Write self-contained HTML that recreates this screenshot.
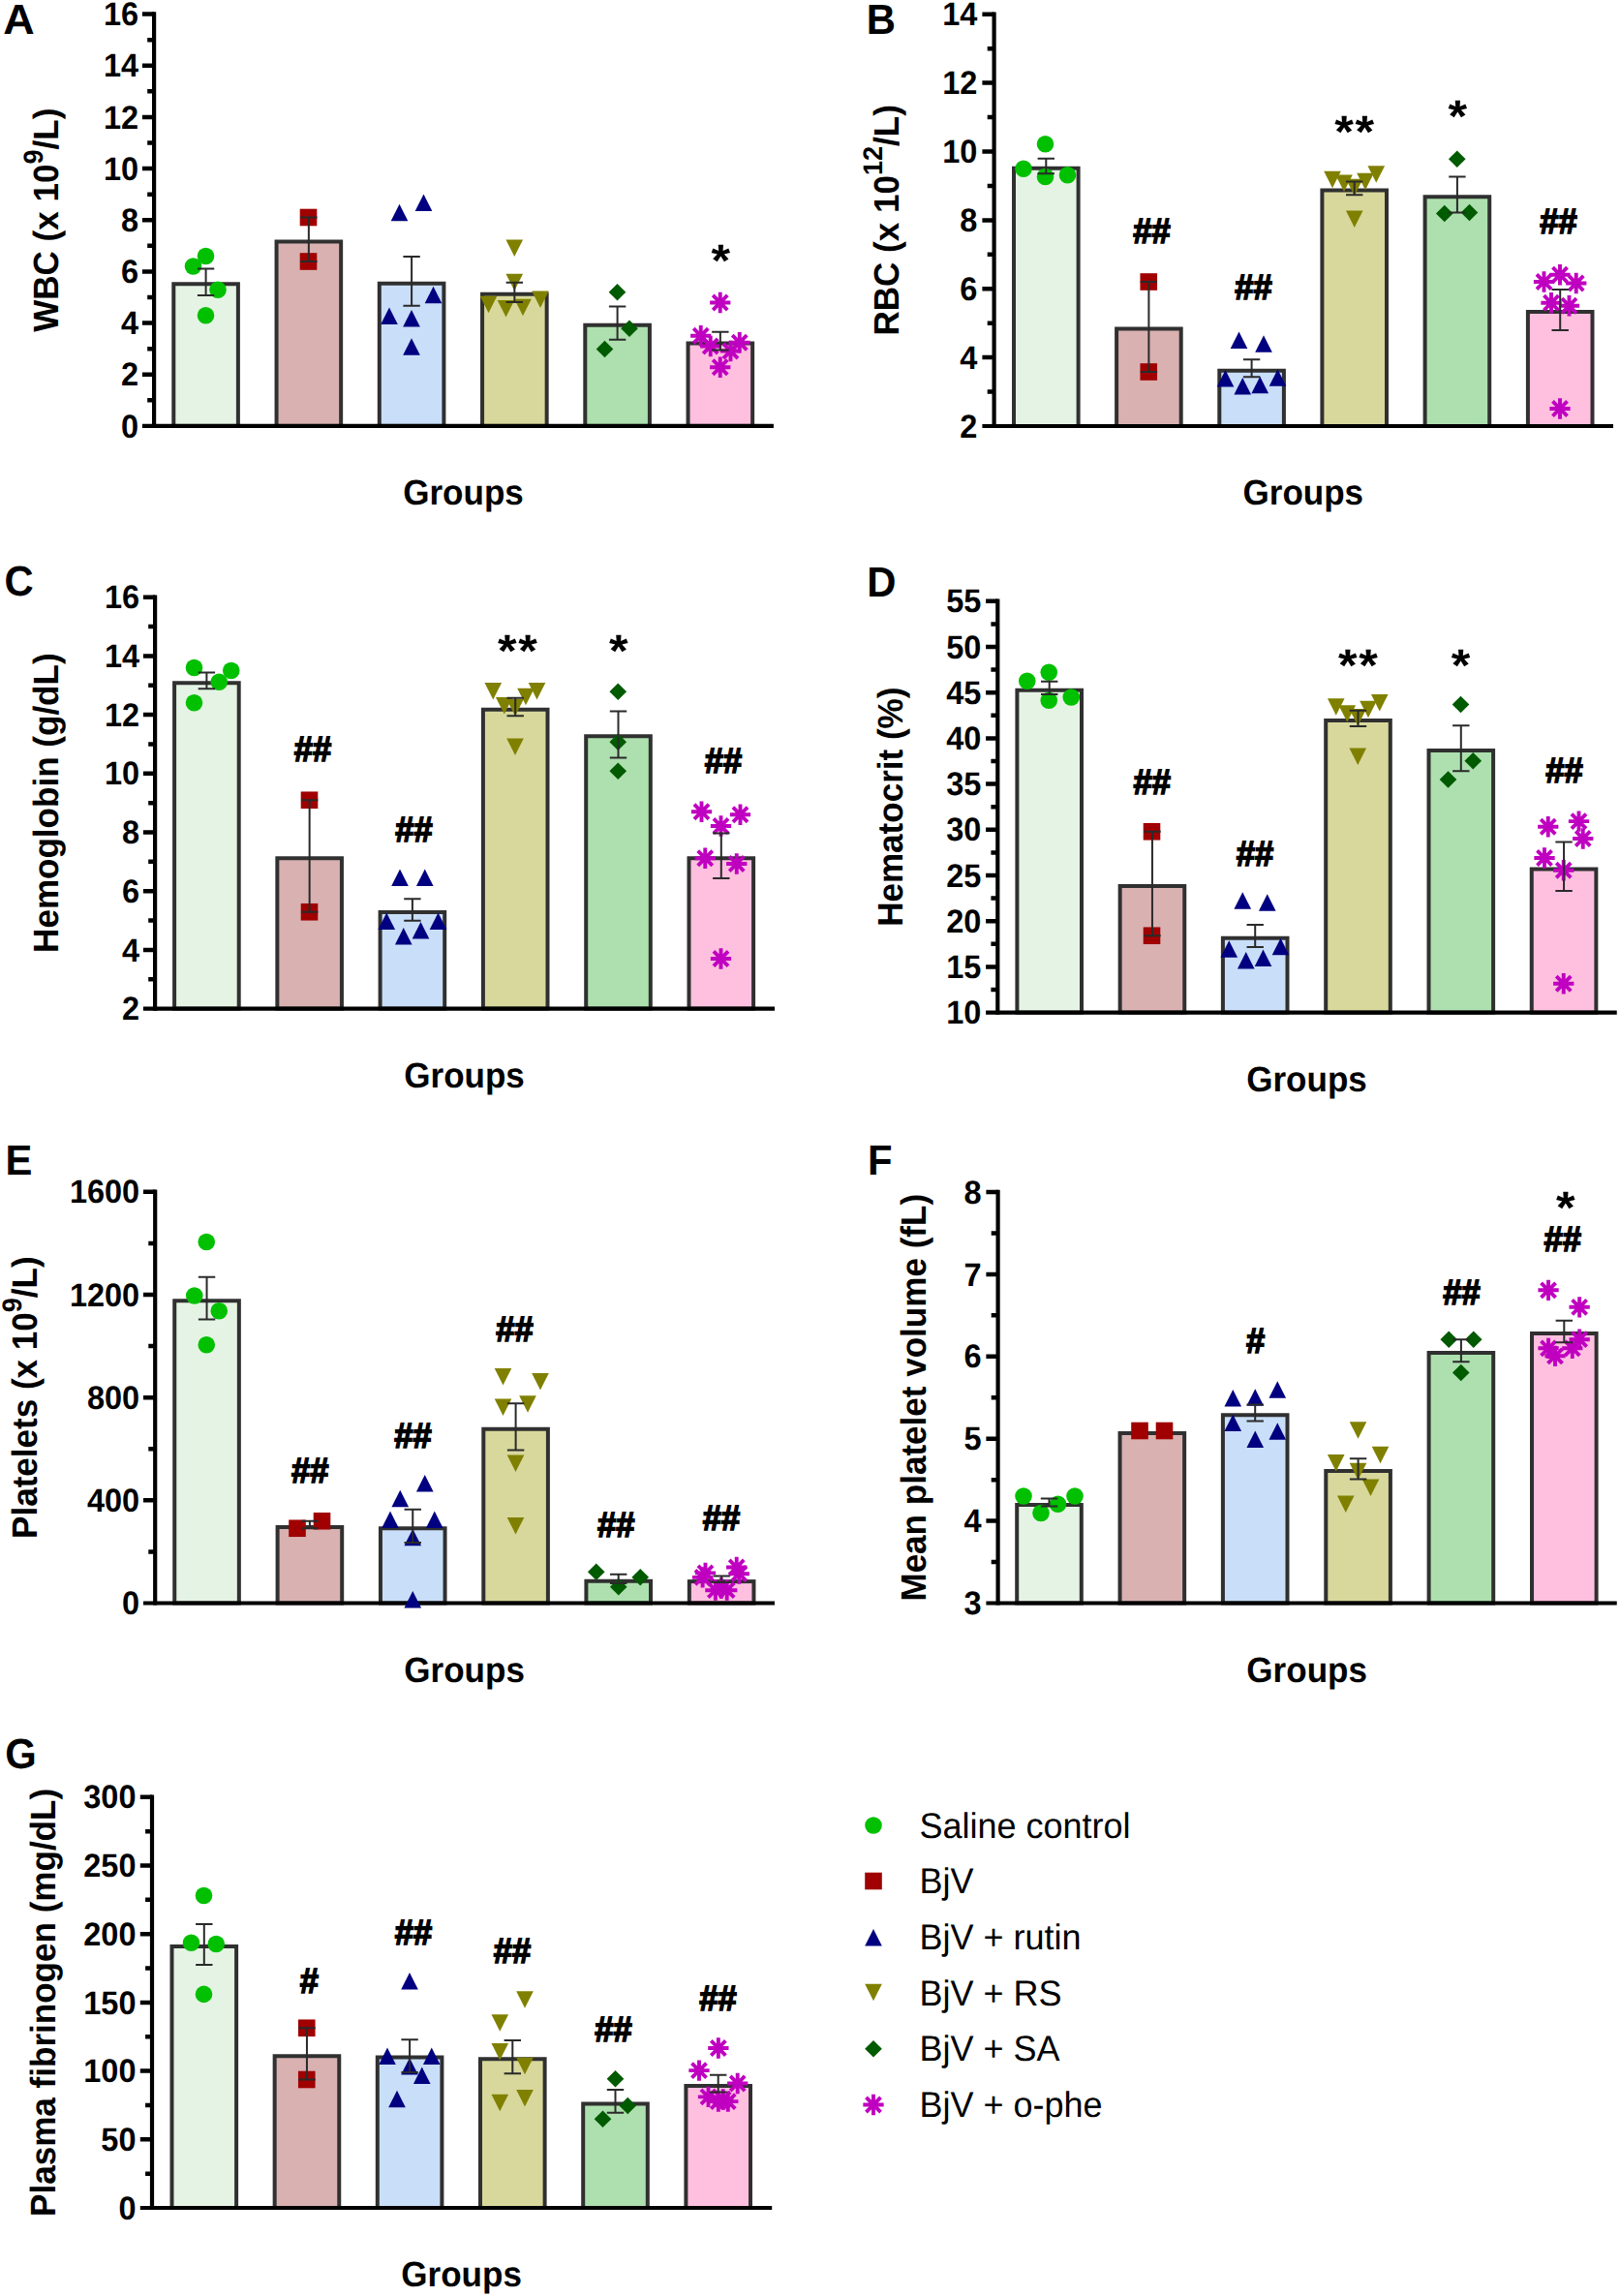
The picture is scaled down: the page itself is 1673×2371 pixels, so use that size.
<!DOCTYPE html>
<html lang="en">
<head>
<meta charset="utf-8">
<title>Hematological parameters</title>
<style>html,body{margin:0;padding:0;background:#fff}svg{display:block}</style>
</head>
<body>
<svg width="1673" height="2371" viewBox="0 0 1673 2371" font-family="'Liberation Sans', sans-serif" fill="#000" text-rendering="geometricPrecision">
<g>
<rect x="179.3" y="293.25" width="66.6" height="146.7" fill="#e5f3e4" stroke="#303030" stroke-width="4"/>
<rect x="285.55" y="249.5" width="66.6" height="190.45" fill="#d9b1b1" stroke="#303030" stroke-width="4"/>
<rect x="391.8" y="292.75" width="66.6" height="147.2" fill="#c9def8" stroke="#303030" stroke-width="4"/>
<rect x="498.05" y="303.75" width="66.6" height="136.2" fill="#d8d89c" stroke="#303030" stroke-width="4"/>
<rect x="604.3" y="335.75" width="66.6" height="104.2" fill="#ade0ae" stroke="#303030" stroke-width="4"/>
<rect x="710.55" y="354.5" width="66.6" height="85.45" fill="#ffc0e0" stroke="#303030" stroke-width="4"/>
<path d="M159.1 12.3V442.05" stroke="#000" stroke-width="4.2" fill="none"/>
<path d="M146.9 439.95H798.9" stroke="#000" stroke-width="4.2" fill="none"/>
<path d="M146.9 14.55H159.1M152.2 41.14H159.1M146.9 67.72H159.1M152.2 94.31H159.1M146.9 120.9H159.1M152.2 147.49H159.1M146.9 174.07H159.1M152.2 200.66H159.1M146.9 227.25H159.1M152.2 253.84H159.1M146.9 280.43H159.1M152.2 307.01H159.1M146.9 333.6H159.1M152.2 360.19H159.1M146.9 386.77H159.1M152.2 413.36H159.1" stroke="#000" stroke-width="4.5" fill="none"/>
<text transform="translate(143.1 26.23) scale(1 1.045)" font-size="32.5" text-anchor="end" font-weight="bold">16</text>
<text transform="translate(143.1 79.41) scale(1 1.045)" font-size="32.5" text-anchor="end" font-weight="bold">14</text>
<text transform="translate(143.1 132.58) scale(1 1.045)" font-size="32.5" text-anchor="end" font-weight="bold">12</text>
<text transform="translate(143.1 185.76) scale(1 1.045)" font-size="32.5" text-anchor="end" font-weight="bold">10</text>
<text transform="translate(143.1 238.93) scale(1 1.045)" font-size="32.5" text-anchor="end" font-weight="bold">8</text>
<text transform="translate(143.1 292.11) scale(1 1.045)" font-size="32.5" text-anchor="end" font-weight="bold">6</text>
<text transform="translate(143.1 345.28) scale(1 1.045)" font-size="32.5" text-anchor="end" font-weight="bold">4</text>
<text transform="translate(143.1 398.46) scale(1 1.045)" font-size="32.5" text-anchor="end" font-weight="bold">2</text>
<text transform="translate(143.1 451.63) scale(1 1.045)" font-size="32.5" text-anchor="end" font-weight="bold">0</text>
<circle cx="212.5" cy="264.5" r="8.8" fill="#00c000"/>
<circle cx="199.5" cy="275" r="8.8" fill="#00c000"/>
<circle cx="225" cy="299.25" r="8.8" fill="#00c000"/>
<circle cx="212.5" cy="325.75" r="8.8" fill="#00c000"/>
<rect x="309.7" y="215.7" width="17.6" height="17.6" fill="#a00000"/>
<rect x="309.7" y="261.2" width="17.6" height="17.6" fill="#a00000"/>
<path d="M412.5 210.7L421.3 228.3L403.7 228.3Z" fill="#000080"/>
<path d="M437.5 200.45L446.3 218.05L428.7 218.05Z" fill="#000080"/>
<path d="M447.5 295.7L456.3 313.3L438.7 313.3Z" fill="#000080"/>
<path d="M402 317.45L410.8 335.05L393.2 335.05Z" fill="#000080"/>
<path d="M425 319.95L433.8 337.55L416.2 337.55Z" fill="#000080"/>
<path d="M425 349.2L433.8 366.8L416.2 366.8Z" fill="#000080"/>
<path d="M522.45 247.45L540.05 247.45L531.25 265.05Z" fill="#808000"/>
<path d="M522.45 282.7L540.05 282.7L531.25 300.3Z" fill="#808000"/>
<path d="M495.7 305.7L513.3 305.7L504.5 323.3Z" fill="#808000"/>
<path d="M513.7 309.95L531.3 309.95L522.5 327.55Z" fill="#808000"/>
<path d="M531.2 308.7L548.8 308.7L540 326.3Z" fill="#808000"/>
<path d="M549.2 300.45L566.8 300.45L558 318.05Z" fill="#808000"/>
<path d="M637.5 292.95L646.3 301.75L637.5 310.55L628.7 301.75Z" fill="#005a00"/>
<path d="M650 330.45L658.8 339.25L650 348.05L641.2 339.25Z" fill="#005a00"/>
<path d="M624.5 351.7L633.3 360.5L624.5 369.3L615.7 360.5Z" fill="#005a00"/>
<path d="M743.75 301.85V323.15M733.1 312.5H754.4M736.22 304.97L751.28 320.03M736.22 320.03L751.28 304.97" stroke="#c000c0" stroke-width="3.9" fill="none"/>
<path d="M723.75 336.1V357.4M713.1 346.75H734.4M716.22 339.22L731.28 354.28M716.22 354.28L731.28 339.22" stroke="#c000c0" stroke-width="3.9" fill="none"/>
<path d="M733.75 346.85V368.15M723.1 357.5H744.4M726.22 349.97L741.28 365.03M726.22 365.03L741.28 349.97" stroke="#c000c0" stroke-width="3.9" fill="none"/>
<path d="M763.75 343.1V364.4M753.1 353.75H774.4M756.22 346.22L771.28 361.28M756.22 361.28L771.28 346.22" stroke="#c000c0" stroke-width="3.9" fill="none"/>
<path d="M754.5 351.85V373.15M743.85 362.5H765.15M746.97 354.97L762.03 370.03M746.97 370.03L762.03 354.97" stroke="#c000c0" stroke-width="3.9" fill="none"/>
<path d="M743.75 368.6V389.9M733.1 379.25H754.4M736.22 371.72L751.28 386.78M736.22 386.78L751.28 371.72" stroke="#c000c0" stroke-width="3.9" fill="none"/>
<path d="M203.9 277.5H221.3M203.9 305H221.3M212.6 277.5V305M310.15 224.5H327.55M310.15 270H327.55M318.85 224.5V270M416.4 265H433.8M416.4 315.75H433.8M425.1 265V315.75M522.65 291.75H540.05M522.65 312H540.05M531.35 291.75V312M628.9 316.5H646.3M628.9 350.75H646.3M637.6 316.5V350.75M735.15 342.75H752.55M735.15 361.5H752.55M743.85 342.75V361.5" stroke="#2a2a2a" stroke-width="2" fill="none"/>
<text transform="translate(744.4 284.91) scale(1 0.935)" font-size="50.3" text-anchor="middle" font-weight="bold">*</text>
<text transform="translate(478.5 521.25) scale(1 1.045)" font-size="35.05" text-anchor="middle" font-weight="bold">Groups</text>
<text transform="translate(59.7 227.25) rotate(-90) scale(1 1.04)" font-size="35.05" text-anchor="middle" font-weight="bold">WBC (x 10<tspan font-size="27" dy="-15.4">9</tspan><tspan dy="15.4">/L)</tspan></text>
<text transform="translate(3.2 35) scale(1.075 1.045)" font-size="41.8" text-anchor="start" font-weight="bold">A</text>
</g>
<g>
<rect x="1047" y="173.75" width="66.6" height="266.25" fill="#e5f3e4" stroke="#303030" stroke-width="4"/>
<rect x="1153.1" y="339.5" width="66.6" height="100.5" fill="#d9b1b1" stroke="#303030" stroke-width="4"/>
<rect x="1259.3" y="382.75" width="66.6" height="57.25" fill="#c9def8" stroke="#303030" stroke-width="4"/>
<rect x="1365.4" y="196.5" width="66.6" height="243.5" fill="#d8d89c" stroke="#303030" stroke-width="4"/>
<rect x="1471.6" y="203.25" width="66.6" height="236.75" fill="#ade0ae" stroke="#303030" stroke-width="4"/>
<rect x="1577.9" y="322" width="66.6" height="118" fill="#ffc0e0" stroke="#303030" stroke-width="4"/>
<path d="M1026.6 12.5V442.1" stroke="#000" stroke-width="4.2" fill="none"/>
<path d="M1014.4 440H1666" stroke="#000" stroke-width="4.2" fill="none"/>
<path d="M1014.4 14.75H1026.6M1019.7 50.19H1026.6M1014.4 85.62H1026.6M1019.7 121.06H1026.6M1014.4 156.5H1026.6M1019.7 191.94H1026.6M1014.4 227.38H1026.6M1019.7 262.81H1026.6M1014.4 298.25H1026.6M1019.7 333.69H1026.6M1014.4 369.12H1026.6M1019.7 404.56H1026.6" stroke="#000" stroke-width="4.5" fill="none"/>
<text transform="translate(1009.4 26.43) scale(1 1.045)" font-size="32.5" text-anchor="end" font-weight="bold">14</text>
<text transform="translate(1009.4 97.31) scale(1 1.045)" font-size="32.5" text-anchor="end" font-weight="bold">12</text>
<text transform="translate(1009.4 168.18) scale(1 1.045)" font-size="32.5" text-anchor="end" font-weight="bold">10</text>
<text transform="translate(1009.4 239.06) scale(1 1.045)" font-size="32.5" text-anchor="end" font-weight="bold">8</text>
<text transform="translate(1009.4 309.93) scale(1 1.045)" font-size="32.5" text-anchor="end" font-weight="bold">6</text>
<text transform="translate(1009.4 380.81) scale(1 1.045)" font-size="32.5" text-anchor="end" font-weight="bold">4</text>
<text transform="translate(1009.4 451.68) scale(1 1.045)" font-size="32.5" text-anchor="end" font-weight="bold">2</text>
<circle cx="1079.5" cy="148.75" r="8.8" fill="#00c000"/>
<circle cx="1057" cy="174.25" r="8.8" fill="#00c000"/>
<circle cx="1079.5" cy="182.5" r="8.8" fill="#00c000"/>
<circle cx="1102.5" cy="180.75" r="8.8" fill="#00c000"/>
<rect x="1177.45" y="282.2" width="17.6" height="17.6" fill="#a00000"/>
<rect x="1177.45" y="375.2" width="17.6" height="17.6" fill="#a00000"/>
<path d="M1279.5 342.45L1288.3 360.05L1270.7 360.05Z" fill="#000080"/>
<path d="M1305 346.2L1313.8 363.8L1296.2 363.8Z" fill="#000080"/>
<path d="M1265.5 381.95L1274.3 399.55L1256.7 399.55Z" fill="#000080"/>
<path d="M1319.5 381.2L1328.3 398.8L1310.7 398.8Z" fill="#000080"/>
<path d="M1283.25 389.95L1292.05 407.55L1274.45 407.55Z" fill="#000080"/>
<path d="M1301.25 388.7L1310.05 406.3L1292.45 406.3Z" fill="#000080"/>
<path d="M1367.2 176.7L1384.8 176.7L1376 194.3Z" fill="#808000"/>
<path d="M1379.2 180.45L1396.8 180.45L1388 198.05Z" fill="#808000"/>
<path d="M1389.95 184.7L1407.55 184.7L1398.75 202.3Z" fill="#808000"/>
<path d="M1401.2 178.7L1418.8 178.7L1410 196.3Z" fill="#808000"/>
<path d="M1412.45 171.2L1430.05 171.2L1421.25 188.8Z" fill="#808000"/>
<path d="M1389.95 217.45L1407.55 217.45L1398.75 235.05Z" fill="#808000"/>
<path d="M1504.75 155.45L1513.55 164.25L1504.75 173.05L1495.95 164.25Z" fill="#005a00"/>
<path d="M1491.75 211.7L1500.55 220.5L1491.75 229.3L1482.95 220.5Z" fill="#005a00"/>
<path d="M1517.5 210.7L1526.3 219.5L1517.5 228.3L1508.7 219.5Z" fill="#005a00"/>
<path d="M1611 273.1V294.4M1600.35 283.75H1621.65M1603.47 276.22L1618.53 291.28M1603.47 291.28L1618.53 276.22" stroke="#c000c0" stroke-width="3.9" fill="none"/>
<path d="M1594.5 280.35V301.65M1583.85 291H1605.15M1586.97 283.47L1602.03 298.53M1586.97 298.53L1602.03 283.47" stroke="#c000c0" stroke-width="3.9" fill="none"/>
<path d="M1627.75 281.85V303.15M1617.1 292.5H1638.4M1620.22 284.97L1635.28 300.03M1620.22 300.03L1635.28 284.97" stroke="#c000c0" stroke-width="3.9" fill="none"/>
<path d="M1602 302.1V323.4M1591.35 312.75H1612.65M1594.47 305.22L1609.53 320.28M1594.47 320.28L1609.53 305.22" stroke="#c000c0" stroke-width="3.9" fill="none"/>
<path d="M1620.5 305.1V326.4M1609.85 315.75H1631.15M1612.97 308.22L1628.03 323.28M1612.97 323.28L1628.03 308.22" stroke="#c000c0" stroke-width="3.9" fill="none"/>
<path d="M1611 411.35V432.65M1600.35 422H1621.65M1603.47 414.47L1618.53 429.53M1603.47 429.53L1618.53 414.47" stroke="#c000c0" stroke-width="3.9" fill="none"/>
<path d="M1071.6 163.75H1089M1071.6 179.25H1089M1080.3 163.75V179.25M1177.7 291H1195.1M1177.7 384H1195.1M1186.4 291V384M1283.9 371.25H1301.3M1283.9 389.25H1301.3M1292.6 371.25V389.25M1390 187.5H1407.4M1390 201.25H1407.4M1398.7 187.5V201.25M1496.2 182.5H1513.6M1496.2 219.5H1513.6M1504.9 182.5V219.5M1602.5 299H1619.9M1602.5 341H1619.9M1611.2 299V341" stroke="#2a2a2a" stroke-width="2" fill="none"/>
<text transform="translate(1189.6 250.5) scale(1 1.065)" font-size="34.6" text-anchor="middle" font-weight="bold" stroke="#000" stroke-width="1.5" stroke-linejoin="miter">##</text>
<text transform="translate(1294.6 309.25) scale(1 1.065)" font-size="34.6" text-anchor="middle" font-weight="bold" stroke="#000" stroke-width="1.5" stroke-linejoin="miter">##</text>
<text transform="translate(1399.6 152.01) scale(1 0.935)" font-size="50.3" text-anchor="middle" font-weight="bold" letter-spacing="1.7">**</text>
<text transform="translate(1505.4 135.56) scale(1 0.935)" font-size="50.3" text-anchor="middle" font-weight="bold">*</text>
<text transform="translate(1609.6 240.5) scale(1 1.065)" font-size="34.6" text-anchor="middle" font-weight="bold" stroke="#000" stroke-width="1.5" stroke-linejoin="miter">##</text>
<text transform="translate(1345.8 521.3) scale(1 1.045)" font-size="35.05" text-anchor="middle" font-weight="bold">Groups</text>
<text transform="translate(927.5 227.38) rotate(-90) scale(1 1.04)" font-size="35.05" text-anchor="middle" font-weight="bold">RBC (x 10<tspan font-size="27" dy="-15.4">12</tspan><tspan dy="15.4">/L)</tspan></text>
<text transform="translate(894.8 34.6) scale(1 1.045)" font-size="41.8" text-anchor="start" font-weight="bold">B</text>
</g>
<g>
<rect x="180.1" y="705.25" width="66.6" height="336.35" fill="#e5f3e4" stroke="#303030" stroke-width="4"/>
<rect x="286.35" y="886.25" width="66.6" height="155.35" fill="#d9b1b1" stroke="#303030" stroke-width="4"/>
<rect x="392.6" y="942" width="66.6" height="99.6" fill="#c9def8" stroke="#303030" stroke-width="4"/>
<rect x="498.9" y="732.75" width="66.6" height="308.85" fill="#d8d89c" stroke="#303030" stroke-width="4"/>
<rect x="605.2" y="760.25" width="66.6" height="281.35" fill="#ade0ae" stroke="#303030" stroke-width="4"/>
<rect x="711.5" y="886.25" width="66.6" height="155.35" fill="#ffc0e0" stroke="#303030" stroke-width="4"/>
<path d="M160.1 614.45V1043.7" stroke="#000" stroke-width="4.2" fill="none"/>
<path d="M147.9 1041.6H800" stroke="#000" stroke-width="4.2" fill="none"/>
<path d="M147.9 616.7H160.1M153.2 647.05H160.1M147.9 677.4H160.1M153.2 707.75H160.1M147.9 738.1H160.1M153.2 768.45H160.1M147.9 798.8H160.1M153.2 829.15H160.1M147.9 859.5H160.1M153.2 889.85H160.1M147.9 920.2H160.1M153.2 950.55H160.1M147.9 980.9H160.1M153.2 1011.25H160.1" stroke="#000" stroke-width="4.5" fill="none"/>
<text transform="translate(144.1 628.38) scale(1 1.045)" font-size="32.5" text-anchor="end" font-weight="bold">16</text>
<text transform="translate(144.1 689.08) scale(1 1.045)" font-size="32.5" text-anchor="end" font-weight="bold">14</text>
<text transform="translate(144.1 749.78) scale(1 1.045)" font-size="32.5" text-anchor="end" font-weight="bold">12</text>
<text transform="translate(144.1 810.48) scale(1 1.045)" font-size="32.5" text-anchor="end" font-weight="bold">10</text>
<text transform="translate(144.1 871.18) scale(1 1.045)" font-size="32.5" text-anchor="end" font-weight="bold">8</text>
<text transform="translate(144.1 931.88) scale(1 1.045)" font-size="32.5" text-anchor="end" font-weight="bold">6</text>
<text transform="translate(144.1 992.58) scale(1 1.045)" font-size="32.5" text-anchor="end" font-weight="bold">4</text>
<text transform="translate(144.1 1053.28) scale(1 1.045)" font-size="32.5" text-anchor="end" font-weight="bold">2</text>
<circle cx="200.5" cy="689.5" r="8.8" fill="#00c000"/>
<circle cx="238.75" cy="692.5" r="8.8" fill="#00c000"/>
<circle cx="226.25" cy="704.25" r="8.8" fill="#00c000"/>
<circle cx="200.5" cy="725.75" r="8.8" fill="#00c000"/>
<rect x="310.7" y="817.45" width="17.6" height="17.6" fill="#a00000"/>
<rect x="310.7" y="932.95" width="17.6" height="17.6" fill="#a00000"/>
<path d="M413 897.45L421.8 915.05L404.2 915.05Z" fill="#000080"/>
<path d="M438.75 897.45L447.55 915.05L429.95 915.05Z" fill="#000080"/>
<path d="M399.25 942.45L408.05 960.05L390.45 960.05Z" fill="#000080"/>
<path d="M452.5 942.45L461.3 960.05L443.7 960.05Z" fill="#000080"/>
<path d="M434.5 951.95L443.3 969.55L425.7 969.55Z" fill="#000080"/>
<path d="M416.75 957.95L425.55 975.55L407.95 975.55Z" fill="#000080"/>
<path d="M500.45 704.95L518.05 704.95L509.25 722.55Z" fill="#808000"/>
<path d="M545.7 704.95L563.3 704.95L554.5 722.55Z" fill="#808000"/>
<path d="M534.2 710.7L551.8 710.7L543 728.3Z" fill="#808000"/>
<path d="M511.95 719.95L529.55 719.95L520.75 737.55Z" fill="#808000"/>
<path d="M523.2 721.95L540.8 721.95L532 739.55Z" fill="#808000"/>
<path d="M523.2 762.45L540.8 762.45L532 780.05Z" fill="#808000"/>
<path d="M638.25 705.45L647.05 714.25L638.25 723.05L629.45 714.25Z" fill="#005a00"/>
<path d="M638.25 757.45L647.05 766.25L638.25 775.05L629.45 766.25Z" fill="#005a00"/>
<path d="M638.25 787.45L647.05 796.25L638.25 805.05L629.45 796.25Z" fill="#005a00"/>
<path d="M724.5 827.6V848.9M713.85 838.25H735.15M716.97 830.72L732.03 845.78M716.97 845.78L732.03 830.72" stroke="#c000c0" stroke-width="3.9" fill="none"/>
<path d="M764.5 830.6V851.9M753.85 841.25H775.15M756.97 833.72L772.03 848.78M756.97 848.78L772.03 833.72" stroke="#c000c0" stroke-width="3.9" fill="none"/>
<path d="M744.5 842.35V863.65M733.85 853H755.15M736.97 845.47L752.03 860.53M736.97 860.53L752.03 845.47" stroke="#c000c0" stroke-width="3.9" fill="none"/>
<path d="M728.25 875.6V896.9M717.6 886.25H738.9M720.72 878.72L735.78 893.78M720.72 893.78L735.78 878.72" stroke="#c000c0" stroke-width="3.9" fill="none"/>
<path d="M760.75 881.35V902.65M750.1 892H771.4M753.22 884.47L768.28 899.53M753.22 899.53L768.28 884.47" stroke="#c000c0" stroke-width="3.9" fill="none"/>
<path d="M744.5 979.35V1000.65M733.85 990H755.15M736.97 982.47L752.03 997.53M736.97 997.53L752.03 982.47" stroke="#c000c0" stroke-width="3.9" fill="none"/>
<path d="M204.7 694.5H222.1M204.7 711.25H222.1M213.4 694.5V711.25M310.95 826.25H328.35M310.95 941.75H328.35M319.65 826.25V941.75M417.2 928.25H434.6M417.2 950.75H434.6M425.9 928.25V950.75M523.5 720.75H540.9M523.5 739.25H540.9M532.2 720.75V739.25M629.8 734.5H647.2M629.8 782.5H647.2M638.5 734.5V782.5M736.1 860.5H753.5M736.1 907H753.5M744.8 860.5V907" stroke="#2a2a2a" stroke-width="2" fill="none"/>
<text transform="translate(323.1 786.25) scale(1 1.065)" font-size="34.6" text-anchor="middle" font-weight="bold" stroke="#000" stroke-width="1.5" stroke-linejoin="miter">##</text>
<text transform="translate(427.6 868.75) scale(1 1.065)" font-size="34.6" text-anchor="middle" font-weight="bold" stroke="#000" stroke-width="1.5" stroke-linejoin="miter">##</text>
<text transform="translate(535.35 687.56) scale(1 0.935)" font-size="50.3" text-anchor="middle" font-weight="bold" letter-spacing="1.7">**</text>
<text transform="translate(638.75 688.21) scale(1 0.935)" font-size="50.3" text-anchor="middle" font-weight="bold">*</text>
<text transform="translate(747.1 797.5) scale(1 1.065)" font-size="34.6" text-anchor="middle" font-weight="bold" stroke="#000" stroke-width="1.5" stroke-linejoin="miter">##</text>
<text transform="translate(479.55 1122.9) scale(1 1.045)" font-size="35.05" text-anchor="middle" font-weight="bold">Groups</text>
<text transform="translate(60.4 829.15) rotate(-90) scale(1 1.04)" font-size="35.05" text-anchor="middle" font-weight="bold">Hemoglobin (g/dL)</text>
<text transform="translate(4.5 615.4) scale(1 1.045)" font-size="41.8" text-anchor="start" font-weight="bold">C</text>
</g>
<g>
<rect x="1050.4" y="712.75" width="66.6" height="332.85" fill="#e5f3e4" stroke="#303030" stroke-width="4"/>
<rect x="1156.65" y="915" width="66.6" height="130.6" fill="#d9b1b1" stroke="#303030" stroke-width="4"/>
<rect x="1262.9" y="968.75" width="66.6" height="76.85" fill="#c9def8" stroke="#303030" stroke-width="4"/>
<rect x="1369.2" y="744" width="66.6" height="301.6" fill="#d8d89c" stroke="#303030" stroke-width="4"/>
<rect x="1475.5" y="775" width="66.6" height="270.6" fill="#ade0ae" stroke="#303030" stroke-width="4"/>
<rect x="1581.75" y="897.5" width="66.6" height="148.1" fill="#ffc0e0" stroke="#303030" stroke-width="4"/>
<path d="M1030.3 618.55V1047.7" stroke="#000" stroke-width="4.2" fill="none"/>
<path d="M1018.1 1045.6H1669.75" stroke="#000" stroke-width="4.2" fill="none"/>
<path d="M1018.1 620.8H1030.3M1023.4 644.4H1030.3M1018.1 668H1030.3M1023.4 691.6H1030.3M1018.1 715.2H1030.3M1023.4 738.8H1030.3M1018.1 762.4H1030.3M1023.4 786H1030.3M1018.1 809.6H1030.3M1023.4 833.2H1030.3M1018.1 856.8H1030.3M1023.4 880.4H1030.3M1018.1 904H1030.3M1023.4 927.6H1030.3M1018.1 951.2H1030.3M1023.4 974.8H1030.3M1018.1 998.4H1030.3M1023.4 1022H1030.3" stroke="#000" stroke-width="4.5" fill="none"/>
<text transform="translate(1013.3 632.48) scale(1 1.045)" font-size="32.5" text-anchor="end" font-weight="bold">55</text>
<text transform="translate(1013.3 679.68) scale(1 1.045)" font-size="32.5" text-anchor="end" font-weight="bold">50</text>
<text transform="translate(1013.3 726.88) scale(1 1.045)" font-size="32.5" text-anchor="end" font-weight="bold">45</text>
<text transform="translate(1013.3 774.08) scale(1 1.045)" font-size="32.5" text-anchor="end" font-weight="bold">40</text>
<text transform="translate(1013.3 821.28) scale(1 1.045)" font-size="32.5" text-anchor="end" font-weight="bold">35</text>
<text transform="translate(1013.3 868.48) scale(1 1.045)" font-size="32.5" text-anchor="end" font-weight="bold">30</text>
<text transform="translate(1013.3 915.68) scale(1 1.045)" font-size="32.5" text-anchor="end" font-weight="bold">25</text>
<text transform="translate(1013.3 962.88) scale(1 1.045)" font-size="32.5" text-anchor="end" font-weight="bold">20</text>
<text transform="translate(1013.3 1010.08) scale(1 1.045)" font-size="32.5" text-anchor="end" font-weight="bold">15</text>
<text transform="translate(1013.3 1057.28) scale(1 1.045)" font-size="32.5" text-anchor="end" font-weight="bold">10</text>
<circle cx="1083.25" cy="694.25" r="8.8" fill="#00c000"/>
<circle cx="1060.75" cy="703.25" r="8.8" fill="#00c000"/>
<circle cx="1083.25" cy="723.25" r="8.8" fill="#00c000"/>
<circle cx="1106.25" cy="720" r="8.8" fill="#00c000"/>
<rect x="1180.7" y="849.95" width="17.6" height="17.6" fill="#a00000"/>
<rect x="1180.7" y="957.45" width="17.6" height="17.6" fill="#a00000"/>
<path d="M1283.25 921.2L1292.05 938.8L1274.45 938.8Z" fill="#000080"/>
<path d="M1308.75 923.2L1317.55 940.8L1299.95 940.8Z" fill="#000080"/>
<path d="M1269.25 971.2L1278.05 988.8L1260.45 988.8Z" fill="#000080"/>
<path d="M1322.5 968.7L1331.3 986.3L1313.7 986.3Z" fill="#000080"/>
<path d="M1304.5 980.45L1313.3 998.05L1295.7 998.05Z" fill="#000080"/>
<path d="M1286.75 982.95L1295.55 1000.55L1277.95 1000.55Z" fill="#000080"/>
<path d="M1370.95 721.2L1388.55 721.2L1379.75 738.8Z" fill="#808000"/>
<path d="M1382.45 728.2L1400.05 728.2L1391.25 745.8Z" fill="#808000"/>
<path d="M1393.45 731.95L1411.05 731.95L1402.25 749.55Z" fill="#808000"/>
<path d="M1404.2 723.7L1421.8 723.7L1413 741.3Z" fill="#808000"/>
<path d="M1415.95 716.95L1433.55 716.95L1424.75 734.55Z" fill="#808000"/>
<path d="M1393.45 772.45L1411.05 772.45L1402.25 790.05Z" fill="#808000"/>
<path d="M1508.5 718.7L1517.3 727.5L1508.5 736.3L1499.7 727.5Z" fill="#005a00"/>
<path d="M1521.25 776.95L1530.05 785.75L1521.25 794.55L1512.45 785.75Z" fill="#005a00"/>
<path d="M1495.5 796.2L1504.3 805L1495.5 813.8L1486.7 805Z" fill="#005a00"/>
<path d="M1598.75 843.1V864.4M1588.1 853.75H1609.4M1591.22 846.22L1606.28 861.28M1591.22 861.28L1606.28 846.22" stroke="#c000c0" stroke-width="3.9" fill="none"/>
<path d="M1630.5 837.45V858.75M1619.85 848.1H1641.15M1622.97 840.57L1638.03 855.63M1622.97 855.63L1638.03 840.57" stroke="#c000c0" stroke-width="3.9" fill="none"/>
<path d="M1634.75 855.35V876.65M1624.1 866H1645.4M1627.22 858.47L1642.28 873.53M1627.22 873.53L1642.28 858.47" stroke="#c000c0" stroke-width="3.9" fill="none"/>
<path d="M1595 875.35V896.65M1584.35 886H1605.65M1587.47 878.47L1602.53 893.53M1587.47 893.53L1602.53 878.47" stroke="#c000c0" stroke-width="3.9" fill="none"/>
<path d="M1614.75 888.1V909.4M1604.1 898.75H1625.4M1607.22 891.22L1622.28 906.28M1607.22 906.28L1622.28 891.22" stroke="#c000c0" stroke-width="3.9" fill="none"/>
<path d="M1614.75 1005.1V1026.4M1604.1 1015.75H1625.4M1607.22 1008.22L1622.28 1023.28M1607.22 1023.28L1622.28 1008.22" stroke="#c000c0" stroke-width="3.9" fill="none"/>
<path d="M1075 703.75H1092.4M1075 717H1092.4M1083.7 703.75V717M1181.25 858.75H1198.65M1181.25 966.25H1198.65M1189.95 858.75V966.25M1287.5 955H1304.9M1287.5 978H1304.9M1296.2 955V978M1393.8 733.75H1411.2M1393.8 750H1411.2M1402.5 733.75V750M1500.1 749.25H1517.5M1500.1 796.25H1517.5M1508.8 749.25V796.25M1606.35 869.5H1623.75M1606.35 920H1623.75M1615.05 869.5V920" stroke="#2a2a2a" stroke-width="2" fill="none"/>
<text transform="translate(1189.85 820) scale(1 1.065)" font-size="34.6" text-anchor="middle" font-weight="bold" stroke="#000" stroke-width="1.5" stroke-linejoin="miter">##</text>
<text transform="translate(1296.1 894.25) scale(1 1.065)" font-size="34.6" text-anchor="middle" font-weight="bold" stroke="#000" stroke-width="1.5" stroke-linejoin="miter">##</text>
<text transform="translate(1403.35 702.81) scale(1 0.935)" font-size="50.3" text-anchor="middle" font-weight="bold" letter-spacing="1.7">**</text>
<text transform="translate(1508.6 703.06) scale(1 0.935)" font-size="50.3" text-anchor="middle" font-weight="bold">*</text>
<text transform="translate(1615.5 808) scale(1 1.065)" font-size="34.6" text-anchor="middle" font-weight="bold" stroke="#000" stroke-width="1.5" stroke-linejoin="miter">##</text>
<text transform="translate(1349.53 1126.9) scale(1 1.045)" font-size="35.05" text-anchor="middle" font-weight="bold">Groups</text>
<text transform="translate(931.5 833.2) rotate(-90) scale(1 1.04)" font-size="35.05" text-anchor="middle" font-weight="bold">Hematocrit (%)</text>
<text transform="translate(895.2 615.7) scale(1 1.045)" font-size="41.8" text-anchor="start" font-weight="bold">D</text>
</g>
<g>
<rect x="180.25" y="1343.25" width="66.6" height="312.25" fill="#e5f3e4" stroke="#303030" stroke-width="4"/>
<rect x="286.6" y="1577" width="66.6" height="78.5" fill="#d9b1b1" stroke="#303030" stroke-width="4"/>
<rect x="392.95" y="1578.25" width="66.6" height="77.25" fill="#c9def8" stroke="#303030" stroke-width="4"/>
<rect x="499.3" y="1475.75" width="66.6" height="179.75" fill="#d8d89c" stroke="#303030" stroke-width="4"/>
<rect x="605.4" y="1632.75" width="66.6" height="22.75" fill="#ade0ae" stroke="#303030" stroke-width="4"/>
<rect x="711.85" y="1633.1" width="66.6" height="22.4" fill="#ffc0e0" stroke="#303030" stroke-width="4"/>
<path d="M160.2 1228.55V1657.6" stroke="#000" stroke-width="4.2" fill="none"/>
<path d="M148 1655.5H800" stroke="#000" stroke-width="4.2" fill="none"/>
<path d="M148 1230.8H160.2M153.3 1283.89H160.2M148 1336.97H160.2M153.3 1390.06H160.2M148 1443.15H160.2M153.3 1496.24H160.2M148 1549.33H160.2M153.3 1602.41H160.2" stroke="#000" stroke-width="4.5" fill="none"/>
<text transform="translate(144.2 1242.48) scale(1 1.045)" font-size="32.5" text-anchor="end" font-weight="bold">1600</text>
<text transform="translate(144.2 1348.66) scale(1 1.045)" font-size="32.5" text-anchor="end" font-weight="bold">1200</text>
<text transform="translate(144.2 1454.83) scale(1 1.045)" font-size="32.5" text-anchor="end" font-weight="bold">800</text>
<text transform="translate(144.2 1561.01) scale(1 1.045)" font-size="32.5" text-anchor="end" font-weight="bold">400</text>
<text transform="translate(144.2 1667.18) scale(1 1.045)" font-size="32.5" text-anchor="end" font-weight="bold">0</text>
<circle cx="213.25" cy="1282.5" r="8.8" fill="#00c000"/>
<circle cx="200.75" cy="1338" r="8.8" fill="#00c000"/>
<circle cx="226.25" cy="1353.75" r="8.8" fill="#00c000"/>
<circle cx="213.25" cy="1388.75" r="8.8" fill="#00c000"/>
<rect x="298.2" y="1569.45" width="17.6" height="17.6" fill="#a00000"/>
<rect x="323.7" y="1561.95" width="17.6" height="17.6" fill="#a00000"/>
<path d="M438.75 1522.95L447.55 1540.55L429.95 1540.55Z" fill="#000080"/>
<path d="M413.25 1538.7L422.05 1556.3L404.45 1556.3Z" fill="#000080"/>
<path d="M403 1560.45L411.8 1578.05L394.2 1578.05Z" fill="#000080"/>
<path d="M448.75 1560.45L457.55 1578.05L439.95 1578.05Z" fill="#000080"/>
<path d="M426.25 1578.7L435.05 1596.3L417.45 1596.3Z" fill="#000080"/>
<path d="M426.25 1642.95L435.05 1660.55L417.45 1660.55Z" fill="#000080"/>
<path d="M510.7 1412.95L528.3 1412.95L519.5 1430.55Z" fill="#808000"/>
<path d="M549.2 1417.95L566.8 1417.95L558 1435.55Z" fill="#808000"/>
<path d="M510.7 1444.45L528.3 1444.45L519.5 1462.05Z" fill="#808000"/>
<path d="M536.2 1441.2L553.8 1441.2L545 1458.8Z" fill="#808000"/>
<path d="M523.7 1502.45L541.3 1502.45L532.5 1520.05Z" fill="#808000"/>
<path d="M523.7 1566.95L541.3 1566.95L532.5 1584.55Z" fill="#808000"/>
<path d="M615.75 1614.45L624.55 1623.25L615.75 1632.05L606.95 1623.25Z" fill="#005a00"/>
<path d="M661.25 1619.95L670.05 1628.75L661.25 1637.55L652.45 1628.75Z" fill="#005a00"/>
<path d="M638.75 1629.95L647.55 1638.75L638.75 1647.55L629.95 1638.75Z" fill="#005a00"/>
<path d="M728.5 1613.75V1635.05M717.85 1624.4H739.15M720.97 1616.87L736.03 1631.93M720.97 1631.93L736.03 1616.87" stroke="#c000c0" stroke-width="3.9" fill="none"/>
<path d="M725.6 1618.25V1639.55M714.95 1628.9H736.25M718.07 1621.37L733.13 1636.43M718.07 1636.43L733.13 1621.37" stroke="#c000c0" stroke-width="3.9" fill="none"/>
<path d="M760.7 1607.85V1629.15M750.05 1618.5H771.35M753.17 1610.97L768.23 1626.03M753.17 1626.03L768.23 1610.97" stroke="#c000c0" stroke-width="3.9" fill="none"/>
<path d="M763.3 1614.55V1635.85M752.65 1625.2H773.95M755.77 1617.67L770.83 1632.73M755.77 1632.73L770.83 1617.67" stroke="#c000c0" stroke-width="3.9" fill="none"/>
<path d="M738.9 1631.55V1652.85M728.25 1642.2H749.55M731.37 1634.67L746.43 1649.73M731.37 1649.73L746.43 1634.67" stroke="#c000c0" stroke-width="3.9" fill="none"/>
<path d="M750.7 1631.55V1652.85M740.05 1642.2H761.35M743.17 1634.67L758.23 1649.73M743.17 1649.73L758.23 1634.67" stroke="#c000c0" stroke-width="3.9" fill="none"/>
<path d="M744.8 1629.35V1650.65M734.15 1640H755.45M737.27 1632.47L752.33 1647.53M737.27 1647.53L752.33 1632.47" stroke="#c000c0" stroke-width="3.9" fill="none"/>
<path d="M204.85 1318.75H222.25M204.85 1362.5H222.25M213.55 1318.75V1362.5M311.2 1570.75H328.6M311.2 1578.25H328.6M319.9 1570.75V1578.25M417.55 1558.75H434.95M417.55 1593H434.95M426.25 1558.75V1593M523.9 1449.25H541.3M523.9 1497.5H541.3M532.6 1449.25V1497.5M630 1625.75H647.4M630 1635H647.4M638.7 1625.75V1635M736.45 1627.4H753.85M736.45 1634.1H753.85M745.15 1627.4V1634.1" stroke="#2a2a2a" stroke-width="2" fill="none"/>
<text transform="translate(320.2 1531) scale(1 1.065)" font-size="34.6" text-anchor="middle" font-weight="bold" stroke="#000" stroke-width="1.5" stroke-linejoin="miter">##</text>
<text transform="translate(426.5 1495) scale(1 1.065)" font-size="34.6" text-anchor="middle" font-weight="bold" stroke="#000" stroke-width="1.5" stroke-linejoin="miter">##</text>
<text transform="translate(531.6 1384.65) scale(1 1.065)" font-size="34.6" text-anchor="middle" font-weight="bold" stroke="#000" stroke-width="1.5" stroke-linejoin="miter">##</text>
<text transform="translate(636.2 1586.75) scale(1 1.065)" font-size="34.6" text-anchor="middle" font-weight="bold" stroke="#000" stroke-width="1.5" stroke-linejoin="miter">##</text>
<text transform="translate(745 1580) scale(1 1.065)" font-size="34.6" text-anchor="middle" font-weight="bold" stroke="#000" stroke-width="1.5" stroke-linejoin="miter">##</text>
<text transform="translate(479.6 1736.8) scale(1 1.045)" font-size="35.05" text-anchor="middle" font-weight="bold">Groups</text>
<text transform="translate(37.95 1443.15) rotate(-90) scale(1 1.04)" font-size="35.05" text-anchor="middle" font-weight="bold">Platelets (x 10<tspan font-size="27" dy="-15.4">9</tspan><tspan dy="15.4">/L)</tspan></text>
<text transform="translate(5.4 1212.5) scale(1 1.045)" font-size="41.8" text-anchor="start" font-weight="bold">E</text>
</g>
<g>
<rect x="1050.2" y="1554" width="66.6" height="101.5" fill="#e5f3e4" stroke="#303030" stroke-width="4"/>
<rect x="1156.55" y="1480" width="66.6" height="175.5" fill="#d9b1b1" stroke="#303030" stroke-width="4"/>
<rect x="1262.9" y="1461.25" width="66.6" height="194.25" fill="#c9def8" stroke="#303030" stroke-width="4"/>
<rect x="1369.3" y="1519" width="66.6" height="136.5" fill="#d8d89c" stroke="#303030" stroke-width="4"/>
<rect x="1475.6" y="1397" width="66.6" height="258.5" fill="#ade0ae" stroke="#303030" stroke-width="4"/>
<rect x="1582" y="1377" width="66.6" height="278.5" fill="#ffc0e0" stroke="#303030" stroke-width="4"/>
<path d="M1030.6 1228.75V1657.6" stroke="#000" stroke-width="4.2" fill="none"/>
<path d="M1018.4 1655.5H1669.75" stroke="#000" stroke-width="4.2" fill="none"/>
<path d="M1018.4 1231H1030.6M1023.7 1273.45H1030.6M1018.4 1315.9H1030.6M1023.7 1358.35H1030.6M1018.4 1400.8H1030.6M1023.7 1443.25H1030.6M1018.4 1485.7H1030.6M1023.7 1528.15H1030.6M1018.4 1570.6H1030.6M1023.7 1613.05H1030.6" stroke="#000" stroke-width="4.5" fill="none"/>
<text transform="translate(1013.6 1242.68) scale(1 1.045)" font-size="32.5" text-anchor="end" font-weight="bold">8</text>
<text transform="translate(1013.6 1327.58) scale(1 1.045)" font-size="32.5" text-anchor="end" font-weight="bold">7</text>
<text transform="translate(1013.6 1412.48) scale(1 1.045)" font-size="32.5" text-anchor="end" font-weight="bold">6</text>
<text transform="translate(1013.6 1497.38) scale(1 1.045)" font-size="32.5" text-anchor="end" font-weight="bold">5</text>
<text transform="translate(1013.6 1582.28) scale(1 1.045)" font-size="32.5" text-anchor="end" font-weight="bold">4</text>
<text transform="translate(1013.6 1667.18) scale(1 1.045)" font-size="32.5" text-anchor="end" font-weight="bold">3</text>
<circle cx="1057" cy="1545" r="8.8" fill="#00c000"/>
<circle cx="1110" cy="1545" r="8.8" fill="#00c000"/>
<circle cx="1092.5" cy="1553.25" r="8.8" fill="#00c000"/>
<circle cx="1075" cy="1562.5" r="8.8" fill="#00c000"/>
<rect x="1168.2" y="1468.7" width="17.6" height="17.6" fill="#a00000"/>
<rect x="1193.7" y="1468.7" width="17.6" height="17.6" fill="#a00000"/>
<path d="M1319.25 1426.2L1328.05 1443.8L1310.45 1443.8Z" fill="#000080"/>
<path d="M1273.25 1434.95L1282.05 1452.55L1264.45 1452.55Z" fill="#000080"/>
<path d="M1296.25 1434.2L1305.05 1451.8L1287.45 1451.8Z" fill="#000080"/>
<path d="M1273.25 1460.45L1282.05 1478.05L1264.45 1478.05Z" fill="#000080"/>
<path d="M1319.25 1469.2L1328.05 1486.8L1310.45 1486.8Z" fill="#000080"/>
<path d="M1296.25 1477.45L1305.05 1495.05L1287.45 1495.05Z" fill="#000080"/>
<path d="M1393.7 1468.2L1411.3 1468.2L1402.5 1485.8Z" fill="#808000"/>
<path d="M1416.7 1493.7L1434.3 1493.7L1425.5 1511.3Z" fill="#808000"/>
<path d="M1370.95 1501.95L1388.55 1501.95L1379.75 1519.55Z" fill="#808000"/>
<path d="M1393.7 1510.7L1411.3 1510.7L1402.5 1528.3Z" fill="#808000"/>
<path d="M1406.7 1527.45L1424.3 1527.45L1415.5 1545.05Z" fill="#808000"/>
<path d="M1380.95 1544.45L1398.55 1544.45L1389.75 1562.05Z" fill="#808000"/>
<path d="M1496.25 1374.45L1505.05 1383.25L1496.25 1392.05L1487.45 1383.25Z" fill="#005a00"/>
<path d="M1521.75 1374.45L1530.55 1383.25L1521.75 1392.05L1512.95 1383.25Z" fill="#005a00"/>
<path d="M1508.75 1408.7L1517.55 1417.5L1508.75 1426.3L1499.95 1417.5Z" fill="#005a00"/>
<path d="M1599.06 1321.65V1342.95M1588.41 1332.3H1609.71M1591.53 1324.77L1606.59 1339.83M1591.53 1339.83L1606.59 1324.77" stroke="#c000c0" stroke-width="3.9" fill="none"/>
<path d="M1631.15 1339.15V1360.45M1620.5 1349.8H1641.8M1623.62 1342.27L1638.68 1357.33M1623.62 1357.33L1638.68 1342.27" stroke="#c000c0" stroke-width="3.9" fill="none"/>
<path d="M1631.15 1372.55V1393.85M1620.5 1383.2H1641.8M1623.62 1375.67L1638.68 1390.73M1623.62 1390.73L1638.68 1375.67" stroke="#c000c0" stroke-width="3.9" fill="none"/>
<path d="M1599.06 1381.65V1402.95M1588.41 1392.3H1609.71M1591.53 1384.77L1606.59 1399.83M1591.53 1399.83L1606.59 1384.77" stroke="#c000c0" stroke-width="3.9" fill="none"/>
<path d="M1623.8 1381.65V1402.95M1613.15 1392.3H1634.45M1616.27 1384.77L1631.33 1399.83M1616.27 1399.83L1631.33 1384.77" stroke="#c000c0" stroke-width="3.9" fill="none"/>
<path d="M1606 1389.65V1410.95M1595.35 1400.3H1616.65M1598.47 1392.77L1613.53 1407.83M1598.47 1407.83L1613.53 1392.77" stroke="#c000c0" stroke-width="3.9" fill="none"/>
<path d="M1074.8 1547.5H1092.2M1074.8 1555.5H1092.2M1083.5 1547.5V1555.5M1287.5 1450.5H1304.9M1287.5 1467.5H1304.9M1296.2 1450.5V1467.5M1393.9 1506.25H1411.3M1393.9 1527.5H1411.3M1402.6 1506.25V1527.5M1500.2 1383.25H1517.6M1500.2 1406.25H1517.6M1508.9 1383.25V1406.25M1606.6 1363.85H1624M1606.6 1386.2H1624M1615.3 1363.85V1386.2" stroke="#2a2a2a" stroke-width="2" fill="none"/>
<text transform="translate(1296.6 1396.75) scale(1 1.065)" font-size="34.6" text-anchor="middle" font-weight="bold" stroke="#000" stroke-width="1.5" stroke-linejoin="miter">#</text>
<text transform="translate(1509.5 1346.75) scale(1 1.065)" font-size="34.6" text-anchor="middle" font-weight="bold" stroke="#000" stroke-width="1.5" stroke-linejoin="miter">##</text>
<text transform="translate(1613.85 1292.25) scale(1 1.065)" font-size="34.6" text-anchor="middle" font-weight="bold" stroke="#000" stroke-width="1.5" stroke-linejoin="miter">##</text>
<text transform="translate(1616.9 1263.06) scale(1 0.935)" font-size="50.3" text-anchor="middle" font-weight="bold">*</text>
<text transform="translate(1349.67 1736.8) scale(1 1.045)" font-size="35.05" text-anchor="middle" font-weight="bold">Groups</text>
<text transform="translate(956.2 1443.25) rotate(-90) scale(1 1.04)" font-size="35.05" text-anchor="middle" font-weight="bold">Mean platelet volume (fL)</text>
<text transform="translate(896 1212.5) scale(1 1.045)" font-size="41.8" text-anchor="start" font-weight="bold">F</text>
</g>
<g>
<rect x="177.5" y="2010" width="66.6" height="270" fill="#e5f3e4" stroke="#303030" stroke-width="4"/>
<rect x="283.65" y="2123.25" width="66.6" height="156.75" fill="#d9b1b1" stroke="#303030" stroke-width="4"/>
<rect x="389.8" y="2124.5" width="66.6" height="155.5" fill="#c9def8" stroke="#303030" stroke-width="4"/>
<rect x="496" y="2126.25" width="66.6" height="153.75" fill="#d8d89c" stroke="#303030" stroke-width="4"/>
<rect x="602.2" y="2172.5" width="66.6" height="107.5" fill="#ade0ae" stroke="#303030" stroke-width="4"/>
<rect x="708.4" y="2154" width="66.6" height="126" fill="#ffc0e0" stroke="#303030" stroke-width="4"/>
<path d="M157 1853.55V2282.1" stroke="#000" stroke-width="4.2" fill="none"/>
<path d="M144.8 2280H797.2" stroke="#000" stroke-width="4.2" fill="none"/>
<path d="M144.8 1855.8H157M150.1 1891.15H157M144.8 1926.5H157M150.1 1961.85H157M144.8 1997.2H157M150.1 2032.55H157M144.8 2067.9H157M150.1 2103.25H157M144.8 2138.6H157M150.1 2173.95H157M144.8 2209.3H157M150.1 2244.65H157" stroke="#000" stroke-width="4.5" fill="none"/>
<text transform="translate(140.5 1867.48) scale(1 1.045)" font-size="32.5" text-anchor="end" font-weight="bold">300</text>
<text transform="translate(140.5 1938.18) scale(1 1.045)" font-size="32.5" text-anchor="end" font-weight="bold">250</text>
<text transform="translate(140.5 2008.88) scale(1 1.045)" font-size="32.5" text-anchor="end" font-weight="bold">200</text>
<text transform="translate(140.5 2079.58) scale(1 1.045)" font-size="32.5" text-anchor="end" font-weight="bold">150</text>
<text transform="translate(140.5 2150.28) scale(1 1.045)" font-size="32.5" text-anchor="end" font-weight="bold">100</text>
<text transform="translate(140.5 2220.98) scale(1 1.045)" font-size="32.5" text-anchor="end" font-weight="bold">50</text>
<text transform="translate(140.5 2291.68) scale(1 1.045)" font-size="32.5" text-anchor="end" font-weight="bold">0</text>
<circle cx="210.5" cy="1957.5" r="8.8" fill="#00c000"/>
<circle cx="197.5" cy="2006.25" r="8.8" fill="#00c000"/>
<circle cx="223.25" cy="2007.5" r="8.8" fill="#00c000"/>
<circle cx="210.5" cy="2059.4" r="8.8" fill="#00c000"/>
<rect x="307.95" y="2085.45" width="17.6" height="17.6" fill="#a00000"/>
<rect x="307.95" y="2138.7" width="17.6" height="17.6" fill="#a00000"/>
<path d="M423 2036.95L431.8 2054.55L414.2 2054.55Z" fill="#000080"/>
<path d="M400 2114.45L408.8 2132.05L391.2 2132.05Z" fill="#000080"/>
<path d="M445.75 2114.45L454.55 2132.05L436.95 2132.05Z" fill="#000080"/>
<path d="M423 2124.95L431.8 2142.55L414.2 2142.55Z" fill="#000080"/>
<path d="M435.75 2134.45L444.55 2152.05L426.95 2152.05Z" fill="#000080"/>
<path d="M410 2158.7L418.8 2176.3L401.2 2176.3Z" fill="#000080"/>
<path d="M533.2 2056.2L550.8 2056.2L542 2073.8Z" fill="#808000"/>
<path d="M507.45 2080.2L525.05 2080.2L516.25 2097.8Z" fill="#808000"/>
<path d="M507.45 2109.95L525.05 2109.95L516.25 2127.55Z" fill="#808000"/>
<path d="M533.2 2124.7L550.8 2124.7L542 2142.3Z" fill="#808000"/>
<path d="M533.2 2157.95L550.8 2157.95L542 2175.55Z" fill="#808000"/>
<path d="M507.45 2162.7L525.05 2162.7L516.25 2180.3Z" fill="#808000"/>
<path d="M635.5 2137.95L644.3 2146.75L635.5 2155.55L626.7 2146.75Z" fill="#005a00"/>
<path d="M648.25 2165.7L657.05 2174.5L648.25 2183.3L639.45 2174.5Z" fill="#005a00"/>
<path d="M622.5 2179.45L631.3 2188.25L622.5 2197.05L613.7 2188.25Z" fill="#005a00"/>
<path d="M741.85 2104.35V2125.65M731.2 2115H752.5M734.32 2107.47L749.38 2122.53M734.32 2122.53L749.38 2107.47" stroke="#c000c0" stroke-width="3.9" fill="none"/>
<path d="M722 2127.5V2148.8M711.35 2138.15H732.65M714.47 2130.62L729.53 2145.68M714.47 2145.68L729.53 2130.62" stroke="#c000c0" stroke-width="3.9" fill="none"/>
<path d="M761.7 2140.85V2162.15M751.05 2151.5H772.35M754.17 2143.97L769.23 2159.03M754.17 2159.03L769.23 2143.97" stroke="#c000c0" stroke-width="3.9" fill="none"/>
<path d="M731.5 2154.75V2176.05M720.85 2165.4H742.15M723.97 2157.87L739.03 2172.93M723.97 2172.93L739.03 2157.87" stroke="#c000c0" stroke-width="3.9" fill="none"/>
<path d="M741.85 2159.45V2180.75M731.2 2170.1H752.5M734.32 2162.57L749.38 2177.63M734.32 2177.63L749.38 2162.57" stroke="#c000c0" stroke-width="3.9" fill="none"/>
<path d="M751.8 2159.45V2180.75M741.15 2170.1H762.45M744.27 2162.57L759.33 2177.63M744.27 2177.63L759.33 2162.57" stroke="#c000c0" stroke-width="3.9" fill="none"/>
<path d="M746.7 2157.35V2178.65M736.05 2168H757.35M739.17 2160.47L754.23 2175.53M739.17 2175.53L754.23 2160.47" stroke="#c000c0" stroke-width="3.9" fill="none"/>
<path d="M202.1 1987H219.5M202.1 2029H219.5M210.8 1987V2029M308.25 2094.25H325.65M308.25 2147.5H325.65M316.95 2094.25V2147.5M414.4 2106.25H431.8M414.4 2140H431.8M423.1 2106.25V2140M520.6 2107H538M520.6 2141.25H538M529.3 2107V2141.25M626.8 2158H644.2M626.8 2181.75H644.2M635.5 2158V2181.75M733 2142.7H750.4M733 2160.6H750.4M741.7 2142.7V2160.6" stroke="#2a2a2a" stroke-width="2" fill="none"/>
<text transform="translate(319.35 2058) scale(1 1.065)" font-size="34.6" text-anchor="middle" font-weight="bold" stroke="#000" stroke-width="1.5" stroke-linejoin="miter">#</text>
<text transform="translate(427 2008) scale(1 1.065)" font-size="34.6" text-anchor="middle" font-weight="bold" stroke="#000" stroke-width="1.5" stroke-linejoin="miter">##</text>
<text transform="translate(529 2027.35) scale(1 1.065)" font-size="34.6" text-anchor="middle" font-weight="bold" stroke="#000" stroke-width="1.5" stroke-linejoin="miter">##</text>
<text transform="translate(633.6 2107.5) scale(1 1.065)" font-size="34.6" text-anchor="middle" font-weight="bold" stroke="#000" stroke-width="1.5" stroke-linejoin="miter">##</text>
<text transform="translate(741.6 2075.5) scale(1 1.065)" font-size="34.6" text-anchor="middle" font-weight="bold" stroke="#000" stroke-width="1.5" stroke-linejoin="miter">##</text>
<text transform="translate(476.6 2361.3) scale(1 1.045)" font-size="35.05" text-anchor="middle" font-weight="bold">Groups</text>
<text transform="translate(57.2 2067.9) rotate(-90) scale(1 1.04)" font-size="35.05" text-anchor="middle" font-weight="bold">Plasma fibrinogen (mg/dL)</text>
<text transform="translate(5.2 1826) scale(1 1.045)" font-size="41.8" text-anchor="start" font-weight="bold">G</text>
</g>
<g>
<circle cx="902" cy="1885" r="8.8" fill="#00c000"/>
<text transform="translate(949.4 1897.5) scale(1 1.025)" font-size="36" text-anchor="start" font-weight="normal">Saline control</text>
<rect x="893.2" y="1933.7" width="17.6" height="17.6" fill="#a00000"/>
<text transform="translate(949.4 1955) scale(1 1.025)" font-size="36" text-anchor="start" font-weight="normal">BjV</text>
<path d="M902 1991.95L910.8 2009.55L893.2 2009.55Z" fill="#000080"/>
<text transform="translate(949.4 2012.5) scale(1 1.025)" font-size="36" text-anchor="start" font-weight="normal">BjV + rutin</text>
<path d="M893.2 2048.7L910.8 2048.7L902 2066.3Z" fill="#808000"/>
<text transform="translate(949.4 2070.6) scale(1 1.025)" font-size="36" text-anchor="start" font-weight="normal">BjV + RS</text>
<path d="M902 2106.95L910.8 2115.75L902 2124.55L893.2 2115.75Z" fill="#005a00"/>
<text transform="translate(949.4 2128.2) scale(1 1.025)" font-size="36" text-anchor="start" font-weight="normal">BjV + SA</text>
<path d="M902 2162.85V2184.15M891.35 2173.5H912.65M894.47 2165.97L909.53 2181.03M894.47 2181.03L909.53 2165.97" stroke="#c000c0" stroke-width="3.9" fill="none"/>
<text transform="translate(949.4 2185.75) scale(1 1.025)" font-size="36" text-anchor="start" font-weight="normal">BjV + o-phe</text>
</g>
</svg>
</body>
</html>
